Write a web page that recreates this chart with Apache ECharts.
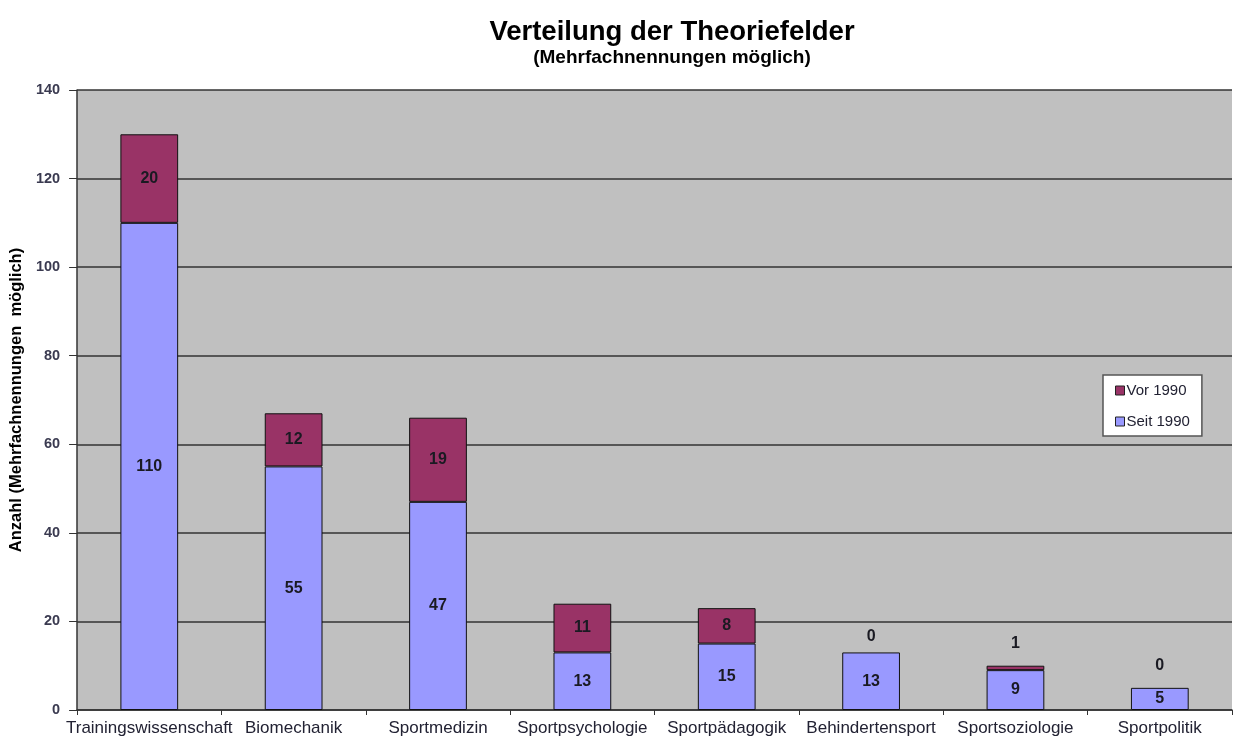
<!DOCTYPE html>
<html>
<head>
<meta charset="utf-8">
<script src="https://cdn.jsdelivr.net/npm/echarts@6/dist/echarts.min.js"></script>
<style>
  html, body { margin: 0; padding: 0; background: #fff; }
  #chart { width: 1235px; height: 738px; }
</style>
</head>
<body>
<div id="chart"></div>
<script>
const categories = ['Trainingswissenschaft', 'Biomechanik', 'Sportmedizin', 'Sportpsychologie',
  'Sportpädagogik', 'Behindertensport', 'Sportsoziologie', 'Sportpolitik']
const seit1990 = [110, 55, 47, 13, 15, 13, 9, 5]
const vor1990 = [20, 12, 19, 11, 8, 0, 1, 0]
const yTicks = [0, 20, 40, 60, 80, 100, 120, 140]

const echart = echarts.init(document.getElementById('chart'))

const labelFont = {
  fontFamily: 'Liberation Sans',
  fontSize: 16,
  fontWeight: 'bold',
  color: '#1a1a22',
}

const option = {
  backgroundColor: '#fff',
  animation: false,
  title: {
    text: 'Verteilung der Theoriefelder',
    subtext: '(Mehrfachnennungen möglich)',
    left: 667,
    top: 13,
    textAlign: 'center',
    itemGap: 2,
    textStyle: {fontFamily: 'Liberation Sans', fontSize: 27.5, fontWeight: 'bold', color: '#000'},
    subtextStyle: {fontFamily: 'Liberation Sans', fontSize: 19, fontWeight: 'bold', color: '#000'},
  },
  legend: {
    orient: 'vertical',
    left: 1103,
    top: 375,
    itemWidth: 9,
    itemHeight: 9,
    itemGap: 16,
    icon: 'rect',
    padding: [8, 12, 7, 12],
    backgroundColor: '#fff',
    borderColor: '#555',
    borderWidth: 1.5,
    textStyle: {fontFamily: 'Liberation Sans', fontSize: 15, color: '#222233', padding: [0, 0, 0, -3]},
    data: [
      {name: 'Vor 1990', itemStyle: {borderColor: '#222', borderWidth: 1}},
      {name: 'Seit 1990', itemStyle: {borderColor: '#222', borderWidth: 1}},
    ],
  },
  grid: {
    left: 77,
    right: 3,
    top: 90,
    bottom: 28,
    show: true,
    backgroundColor: '#c0c0c0',
    borderWidth: 0,
  },
  xAxis: {
    type: 'category',
    data: categories,
    axisLine: {lineStyle: {color: '#333', width: 1.5}},
    axisTick: {show: true, length: 5, lineStyle: {color: '#333'}},
    axisLabel: {
      interval: 0,
      margin: 10,
      fontFamily: 'Liberation Sans',
      fontSize: 17,
      color: '#222233',
    },
  },
  yAxis: {
    type: 'value',
    min: 0,
    max: 140,
    interval: 20,
    name: 'Anzahl (Mehrfachnennungen  möglich)',
    nameLocation: 'middle',
    nameGap: 51,
    nameTextStyle: {fontFamily: 'Liberation Sans', fontSize: 16.5, fontWeight: 'bold', color: '#000'},
    axisLine: {show: true, lineStyle: {color: '#333', width: 1.5}},
    axisTick: {show: true, length: 8, lineStyle: {color: '#333'}},
    axisLabel: {
      margin: 17,
      fontFamily: 'Liberation Sans',
      fontSize: 14.5,
      fontWeight: 'bold',
      color: '#3a3a50',
      formatter: v => yTicks.includes(v) ? String(v) : '',
    },
    splitLine: {show: true, lineStyle: {color: '#333', width: 1.5}},
  },
  series: [
    {
      name: 'Seit 1990',
      type: 'bar',
      stack: 'total',
      barWidth: '40%',
      data: seit1990,
      itemStyle: {color: '#9999ff', borderColor: '#111', borderWidth: 1},
      label: {show: true, position: 'inside', ...labelFont},
    },
    {
      name: 'Vor 1990',
      type: 'bar',
      stack: 'total',
      barWidth: '40%',
      data: vor1990.map((v, i) => v >= 5 ? v : {
        value: v,
        itemStyle: v === 0 ? {borderWidth: 0} : {},
        label: {position: 'top', distance: i === 5 ? 8 : 14},
      }),
      itemStyle: {color: '#993366', borderColor: '#111', borderWidth: 1},
      label: {show: true, position: 'inside', ...labelFont},
    },
  ],
}

option && echart.setOption(option)
</script>
</body>
</html>
